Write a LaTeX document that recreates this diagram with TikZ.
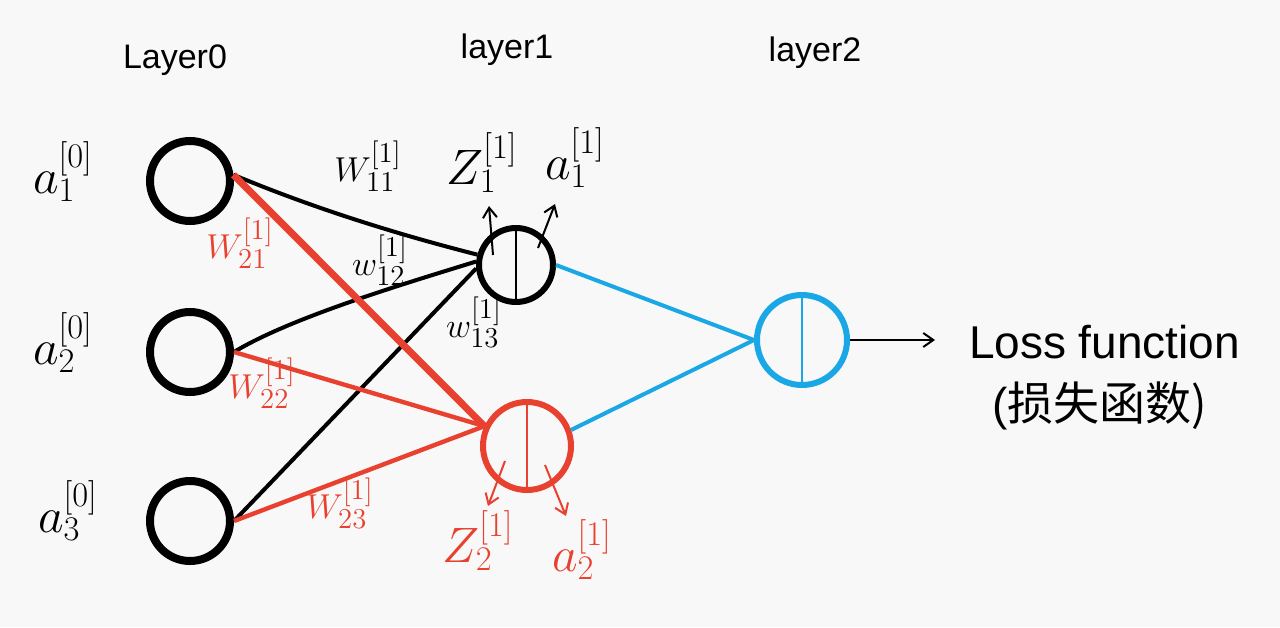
\documentclass[tikz,border=0pt]{standalone}
\usepackage{fontspec}
\setmainfont{Liberation Sans}
\newfontfamily\cjk{Noto Sans CJK SC}
\usetikzlibrary{arrows.meta}
\definecolor{hred}{HTML}{E8412F}
\definecolor{hblue}{HTML}{1AA7E6}
\definecolor{bg}{HTML}{F8F8F8}
\tikzset{
  inneuron/.style={circle, draw=black, line width=4pt, minimum size=40pt, inner sep=0pt},
  hidneuron/.style={circle, line width=3pt, inner sep=0pt},
  blk/.style={black, line width=2pt},
  redl/.style={hred, line width=2.2pt},
  bluel/.style={hblue, line width=2pt},
  lab/.style={font=\fontsize{23}{26}\selectfont, inner sep=1pt},
  wlab/.style={font=\fontsize{19}{22}\selectfont, inner sep=1pt},
  title/.style={font=\fontsize{17}{20}\selectfont},
  outarr/.style={line width=1pt, -{Straight Barb[length=5pt,width=7pt]}},
}
\begin{document}
\begin{tikzpicture}[x=0.5pt, y=-0.5pt]
\fill[bg] (0,0) rectangle (1280,627);
\useasboundingbox (0,0) rectangle (1280,627);

% titles
\node[title] (t0) at (175,60) {Layer0};
\node[title] (t1) at (507,50) {layer1};
\node[title] (t2) at (815,53) {layer2};

% input neurons
\node[inneuron] (n1) at (190,181) {};
\node[inneuron] (n2) at (190,352) {};
\node[inneuron] (n3) at (190,521) {};

% hidden neurons
\node[hidneuron, draw=black, minimum size=37pt] (h1) at (516,265) {};
\node[hidneuron, draw=hred, minimum size=44pt] (h2) at (527,446) {};
\node[hidneuron, draw=hblue, minimum size=45pt] (o) at (802,340) {};

% dividers
\draw[black, line width=1.2pt] (h1.north) -- (h1.south);
\draw[hred, line width=1.2pt] (h2.north) -- (h2.south);
\draw[hblue, line width=1.2pt] (o.north) -- (o.south);

% input labels
\node[lab] (la1) at (63,172) {$a_1^{[0]}$};
\node[lab] (la2) at (63,343) {$a_2^{[0]}$};
\node[lab] (la3) at (68,511) {$a_3^{[0]}$};

% black edges
\draw[blk] (n1.8) .. controls (330,215) and (420,240) .. (h1.165);
\draw[blk] (n2.east) .. controls (290,318) and (400,285) .. (h1.175);
\draw[blk] (n3.east) -- (h1.185);

% red edges
\draw[hred, line width=3.5pt] (n1.8) -- (h2.155);
\draw[redl] (n2.east) -- (h2.155);
\draw[redl] (n3.east) -- (h2.155);

% blue edges
\draw[bluel] (h1.east) -- (o.west);
\draw[bluel] (h2.20) -- (o.west);

% weight labels
\node[wlab] (w11) at (368,166) {$W_{11}^{[1]}$};
\node[wlab, text=hred] (w21) at (240,243) {$W_{21}^{[1]}$};
\node[wlab] (w12) at (380,260) {$w_{12}^{[1]}$};
\node[wlab] (w13) at (474,322) {$w_{13}^{[1]}$};
\node[wlab, text=hred] (w22) at (262,383) {$W_{22}^{[1]}$};
\node[wlab, text=hred] (w23) at (340,503) {$W_{23}^{[1]}$};

% activations of h1
\node[lab] (z1) at (482,163) {$Z_1^{[1]}$};
\node[lab] (a1) at (575,158) {$a_1^{[1]}$};
\coordinate (z1s) at (493,255);
\coordinate (a1s) at (538,248);
\draw[outarr] (z1s) -- (489,206);
\draw[outarr] (a1s) -- (555,204);

% activations of h2
\node[lab, text=hred] (z2) at (478,541) {$Z_2^{[1]}$};
\node[lab, text=hred] (a2) at (582,550) {$a_2^{[1]}$};
\coordinate (z2s) at (505,461);
\coordinate (a2s) at (545,465);
\draw[outarr, hred] (z2s) -- (488,506);
\draw[outarr, hred] (a2s) -- (566,516);

% output
\coordinate (lossin) at (935,340);
\draw[outarr] (o.east) -- (lossin);
\node[font=\fontsize{23}{26}\selectfont, anchor=west] (loss) at (962,342) {Loss function};
\node[font=\fontsize{23}{28}\selectfont, anchor=west] (losszh) at (985,406) {(\cjk 损失函数)};

\end{tikzpicture}
\end{document}
